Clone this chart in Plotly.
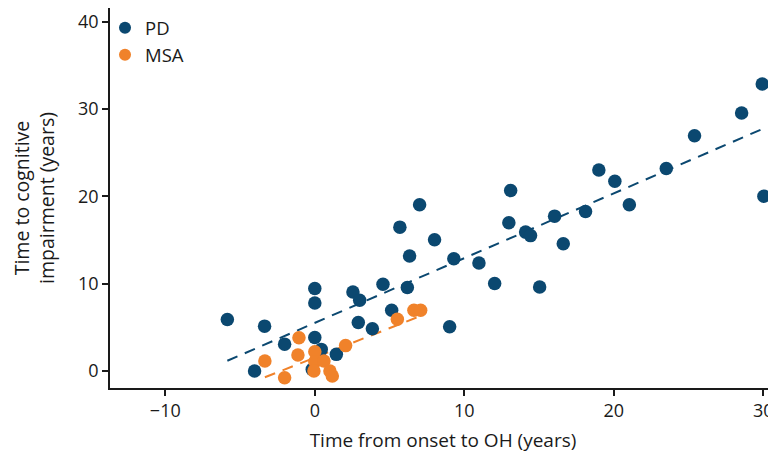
import numpy as np
import plotly.graph_objects as go

# PD data (time from onset to OH, time to cognitive impairment)
pd_x = [-5.85, -3.36, -4.03, -2.02, 0.0, 0.0, 0.0, -0.17, 0.43, 1.44, 2.55, 3.0, 2.91, 3.85,
        4.56, 5.14, 6.19, 6.34, 5.69, 7.01, 8.01, 9.3, 9.02, 10.98, 12.03, 12.98, 13.1,
        14.1, 14.43, 15.04, 16.04, 16.62, 18.11, 19.0, 20.07, 21.04, 23.51, 25.4, 28.55,
        29.93, 30.04]
pd_y = [5.9, 5.14, 0.0, 3.08, 9.44, 7.8, 3.85, 0.19, 2.48, 1.91, 9.05, 8.1, 5.56, 4.83,
        9.93, 6.96, 9.55, 13.16, 16.47, 19.03, 15.03, 12.86, 5.06, 12.36, 10.01, 16.97, 20.66,
        15.9, 15.5, 9.62, 17.73, 14.58, 18.26, 23.02, 21.72, 19.03, 23.17, 26.94, 29.53,
        32.84, 20.01]

# MSA data
msa_x = [-3.34, -2.02, -1.06, -1.13, 0.0, 0.0, -0.06, 0.61, 1.01, 1.17, 2.06, 5.52, 6.63, 7.08]
msa_y = [1.14, -0.76, 3.8, 1.83, 2.2, 1.06, 0.0, 1.14, 0.0, -0.57, 2.91, 5.94, 6.96, 6.96]

x_ticks = [-10, 0, 10, 20, 30]
y_ticks = [0, 10, 20, 30, 40]

PD_COLOR = "#0b4870"
MSA_COLOR = "#f0822a"


def fit_line(xs, ys):
    xs = np.asarray(xs, float)
    ys = np.asarray(ys, float)
    m, b = np.polyfit(xs, ys, 1)
    lx = np.array([xs.min(), xs.max()])
    return lx, m * lx + b


fig = go.Figure()

pd_lx, pd_ly = fit_line(pd_x, pd_y)
msa_lx, msa_ly = fit_line(msa_x, msa_y)

fig.add_trace(go.Scatter(x=pd_lx, y=pd_ly, mode="lines", showlegend=False,
                         line=dict(color=PD_COLOR, width=2, dash="11px,8px")))
fig.add_trace(go.Scatter(x=msa_lx, y=msa_ly, mode="lines", showlegend=False,
                         line=dict(color=MSA_COLOR, width=2, dash="11px,8px")))

fig.add_trace(go.Scatter(x=pd_x, y=pd_y, mode="markers", name="PD",
                         marker=dict(color=PD_COLOR, size=13.5, line=dict(width=0))))
fig.add_trace(go.Scatter(x=msa_x, y=msa_y, mode="markers", name="MSA",
                         marker=dict(color=MSA_COLOR, size=13.5, line=dict(width=0))))

axis_common = dict(showgrid=False, zeroline=False, showline=True, linecolor="#1a1a1a",
                   linewidth=1.5, ticks="outside", ticklen=6, tickwidth=1.5, tickcolor="#1a1a1a",
                   automargin=False,
                   tickfont=dict(family="Open Sans", size=18, color="#1a1a1a"))

fig.update_xaxes(range=[-13.7, 30.85], tickvals=x_ticks,
                 ticktext=[("\u2212" + str(-v)) if v < 0 else str(v) for v in x_ticks],
                 title=dict(text="Time from onset to OH (years)",
                            font=dict(family="Open Sans", size=19, color="#1a1a1a"), standoff=12),
                 **axis_common)
fig.update_yaxes(range=[-1.94, 41.55], tickvals=y_ticks,
                 title=dict(text="Time to cognitive<br>impairment (years)",
                            font=dict(family="Open Sans", size=19.5, color="#1a1a1a"), standoff=27),
                 **axis_common)

fig.update_layout(
    width=776, height=461,
    margin=dict(l=102, r=8, t=0, b=81),
    plot_bgcolor="white", paper_bgcolor="white",
    font=dict(family="Open Sans", color="#1a1a1a"),
    legend=dict(x=-0.0075, y=0.997, xanchor="left", yanchor="top",
                font=dict(family="Open Sans", size=18.5, color="#1a1a1a"),
                bgcolor="rgba(0,0,0,0)", itemsizing="constant"),
)

fig.write_html("out.html")
